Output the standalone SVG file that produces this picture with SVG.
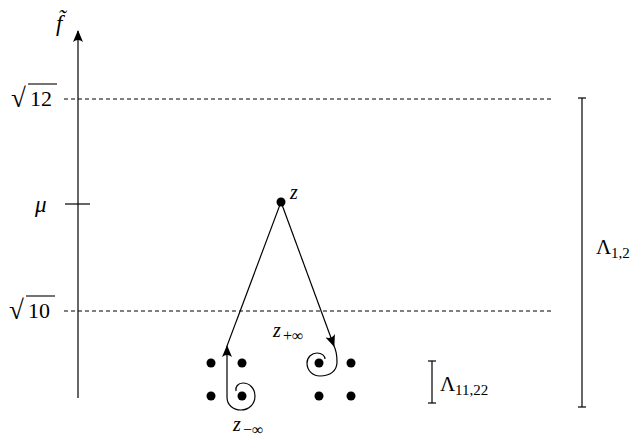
<svg xmlns="http://www.w3.org/2000/svg" width="636" height="440" viewBox="0 0 636 440">
<defs>
<style>
.ln{stroke:#000;stroke-width:1.2;fill:none}
.dash{stroke:#000;stroke-width:1;stroke-dasharray:4 3;fill:none}
.dot{fill:#000}
</style>
<marker id="ah" viewBox="0 0 12 10" refX="11" refY="5" markerWidth="12" markerHeight="10" markerUnits="userSpaceOnUse" orient="auto">
<path d="M0,0 Q4,5 0,10 L12,5 Z" fill="#000"/>
</marker>
</defs>
<g id="axis">
<line class="ln" x1="78" y1="398" x2="78" y2="31" marker-end="url(#ah)"/>
<text x="56" y="31" font-size="23" font-style="italic" font-family="Liberation Serif">f̃</text>
</g>
<g id="level-sqrt12">
<line class="dash" x1="64" y1="99" x2="552" y2="99"/>
<text x="11" y="107" font-size="27" font-family="Liberation Serif">√</text>
<line stroke="#000" stroke-width="1.1" x1="28" y1="84" x2="57" y2="84"/>
<text x="30" y="106" font-size="22" font-family="Liberation Serif">12</text>
</g>
<g id="level-mu">
<line class="ln" x1="65" y1="204" x2="90" y2="204"/>
<text x="35" y="212" font-size="23" font-style="italic" font-family="Liberation Serif">μ</text>
</g>
<g id="level-sqrt10">
<line class="dash" x1="64" y1="311" x2="552" y2="311"/>
<text x="9" y="319" font-size="27" font-family="Liberation Serif">√</text>
<line stroke="#000" stroke-width="1.1" x1="26" y1="296" x2="55" y2="296"/>
<text x="28" y="318" font-size="22" font-family="Liberation Serif">10</text>
</g>
<g id="z">
<circle class="dot" cx="281" cy="202" r="4.5"/>
<text x="290" y="199" font-size="20" font-style="italic" font-family="Liberation Serif">z</text>
</g>
<g id="dots">
<circle class="dot" cx="211" cy="363" r="4.5"/>
<circle class="dot" cx="242" cy="363" r="4.5"/>
<circle class="dot" cx="211" cy="396" r="4.5"/>
<circle class="dot" cx="242" cy="396" r="4.5"/>
<circle class="dot" cx="319" cy="363" r="4.5"/>
<circle class="dot" cx="351" cy="363" r="4.5"/>
<circle class="dot" cx="319" cy="396" r="4.5"/>
<circle class="dot" cx="351" cy="396" r="4.5"/>
</g>
<g id="connectors">
<path class="ln" d="M236,391 C235,387 238,383 243,383 C249,383 255,388 255,396 C255,404 249,410 241,410 C233,410 227,405 227,397 L227,346" marker-end="url(#ah)"/>
<line class="ln" x1="227" y1="346" x2="281" y2="202"/>
<line class="ln" x1="281" y1="202" x2="334" y2="346" marker-end="url(#ah)"/>
<path class="ln" d="M334,346 C336,350 337,355 337,362 C337,371 330,376 320,376 C312,376 307,370 307,363 C307,357 312,353 317,353 C322,353 325,356 325,359"/>
</g>
<g id="label-zplus">
<text x="273" y="337" font-size="20" font-style="italic" font-family="Liberation Serif">z</text>
<text x="283" y="341" font-size="16" font-family="Liberation Serif">+∞</text>
</g>
<g id="label-zminus">
<text x="233" y="431" font-size="20" font-style="italic" font-family="Liberation Serif">z</text>
<text x="243" y="435" font-size="16" font-family="Liberation Serif">−∞</text>
</g>
<g id="lambda-small">
<line class="ln" x1="432" y1="361" x2="432" y2="403"/>
<line class="ln" x1="428" y1="361" x2="436" y2="361"/>
<line class="ln" x1="428" y1="403" x2="436" y2="403"/>
<text x="440" y="391" font-size="21" font-family="Liberation Serif">Λ</text>
<text x="455" y="395" font-size="15" font-family="Liberation Serif">11,22</text>
</g>
<g id="lambda-big">
<line class="ln" x1="582" y1="98" x2="582" y2="407"/>
<line class="ln" x1="578" y1="98" x2="586" y2="98"/>
<line class="ln" x1="578" y1="407" x2="586" y2="407"/>
<text x="596" y="254" font-size="21" font-family="Liberation Serif">Λ</text>
<text x="611" y="258" font-size="15" font-family="Liberation Serif">1,2</text>
</g>
</svg>
